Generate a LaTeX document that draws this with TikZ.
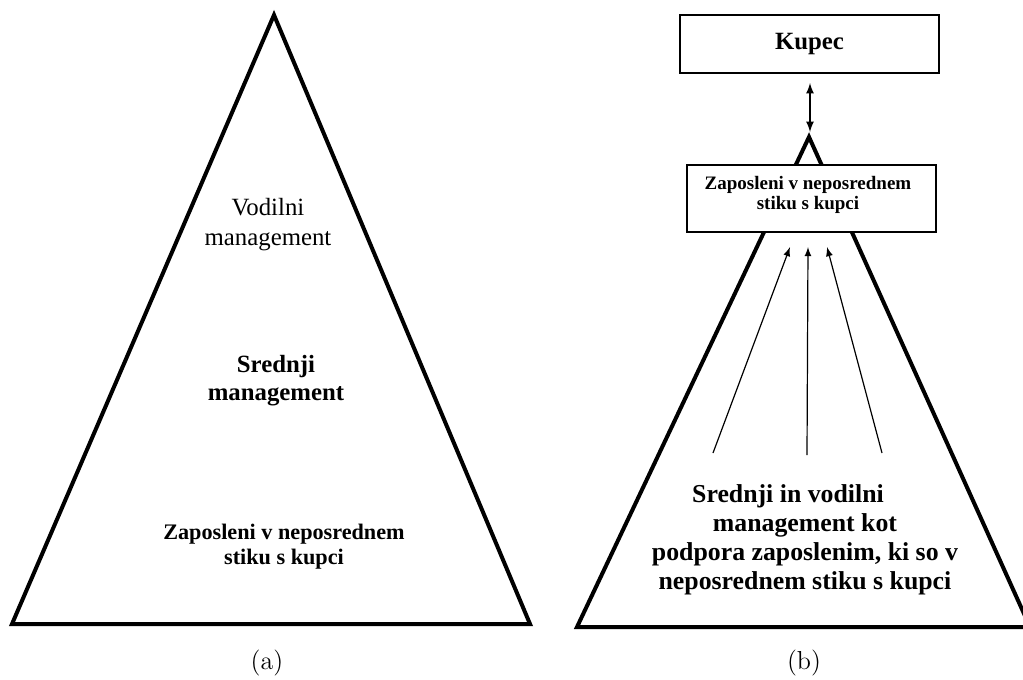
\documentclass[tikz,border=0pt]{standalone}
\usepackage{fontspec}
\newfontfamily\tnr{Liberation Serif}
\tikzset{
  tri/.style={line width=2pt, line join=miter},
  box/.style={draw, line width=1.3pt, fill=white, inner sep=0pt},
  txt/.style={align=center},
  >=latex
}
\begin{document}
\begin{tikzpicture}[x=0.5pt, y=-0.5pt]
        \useasboundingbox (0,0) rectangle (1023,680);
        % (a)
        \coordinate (ta) at (274,15);
        \coordinate (la) at (12,624);
        \coordinate (ra) at (530,624);
        \draw [tri] (ta) -- (la) -- (ra) -- cycle;
        \node [txt, font=\tnr\fontsize{12.4}{15}\selectfont] (vod) at (268,225) {Vodilni\\management};
        \node [txt, font=\tnr\fontsize{12.4}{14}\selectfont\bfseries] (sred) at (276,381) {Srednji\\management};
        \node [txt, font=\tnr\fontsize{11.1}{12.5}\selectfont\bfseries] (zap) at (284,547) {Zaposleni v neposrednem\\stiku s kupci};
        \node [font=\fontsize{13}{15}\selectfont] (capa) at (267,663) {(a)};
        % (b)
        \coordinate (tb) at (809,137);
        \coordinate (lb) at (577,627);
        \coordinate (rb) at (1030,627);
        \draw [tri] (tb) -- (lb) -- (rb) -- cycle;
        \node [box, minimum width=129.5pt, minimum height=29pt, font=\tnr\fontsize{12.4}{15}\selectfont\bfseries] (kup) at (809.5,44) {Kupec};
        \node [box, minimum width=124.5pt, minimum height=33.5pt] (zapb) at (811.5,198.5) {};
        \node [txt, font=\tnr\fontsize{9.5}{10}\selectfont\bfseries] (zapt) at (808,195) {Zaposleni v neposrednem\\stiku s kupci};
        \coordinate (k1) at (810,83);
        \coordinate (k2) at (810,132);
        \draw [<->, line width=0.8pt] (k1) -- (k2);
        \coordinate (s1) at (713,453);
        \coordinate (e1) at (790,247);
        \coordinate (s2) at (807,455);
        \coordinate (e2) at (808,247);
        \coordinate (s3) at (882,453);
        \coordinate (e3) at (827,247);
        \draw [->, line width=0.6pt] (s1) -- (e1);
        \draw [->, line width=0.6pt] (s2) -- (e2);
        \draw [->, line width=0.6pt] (s3) -- (e3);
        \node [txt, font=\tnr\fontsize{12.9}{14.5}\selectfont\bfseries] (sup) at (805,540)
              {Srednji in vodilni\hspace*{17pt}\\management kot\hspace*{15pt}\\podpora zaposlenim, ki so v\\neposrednem stiku s kupci};
        \node [font=\fontsize{13}{15}\selectfont] (capb) at (804,663) {(b)};
    \end{tikzpicture}
\end{document}
